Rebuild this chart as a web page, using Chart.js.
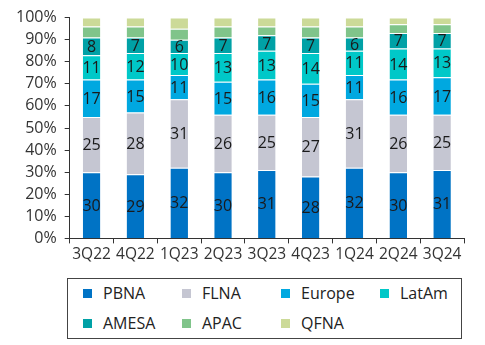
<!DOCTYPE html>
<html>
<head>
<meta charset="utf-8">
<script src="https://cdn.jsdelivr.net/npm/chart.js@4"></script>
<style>
  body { margin: 0; background: #fff; font-family: "Open Sans", sans-serif; }
  #wrap { position: relative; width: 485px; height: 345px; }
  #chartBox { position: absolute; left: 0; top: 0; width: 485px; height: 268px; }
  #legend {
    position: absolute; left: 67px; top: 278px; width: 395px; height: 61px;
    border: 1px solid #444; box-sizing: border-box;
    display: grid; grid-template-columns: 99px 99px 99px 96px; grid-auto-rows: 30px;
    padding: 0 0 0 15px;
  }
  .item { display: flex; align-items: center; font-size: 16px; color: #222; position: relative; top: -1px; }
  .sw { width: 9px; height: 9px; margin-right: 11px; }
</style>
</head>
<body>
<div id="wrap">
  <div id="chartBox"><canvas id="barChart"></canvas></div>
  <div id="legend"></div>
</div>
<script>
var quarters = ["3Q22", "4Q22", "1Q23", "2Q23", "3Q23", "4Q23", "1Q24", "2Q24", "3Q24"];
var pbna   = [30, 29, 32, 30, 31, 28, 32, 30, 31];
var flna   = [25, 28, 31, 26, 25, 27, 31, 26, 25];
var europe = [17, 15, 11, 15, 16, 15, 11, 16, 17];
var latam  = [11, 12, 10, 13, 13, 14, 11, 14, 13];
var amesa  = [8, 7, 6, 7, 7, 7, 6, 7, 7];
var apac   = [5, 5, 5, 5, 4, 5, 5, 4, 4];
var qfna   = [4, 4, 5, 4, 4, 4, 4, 3, 3];

var series = [
  { label: "PBNA",   data: pbna,   color: "#0073C5", showValue: true },
  { label: "FLNA",   data: flna,   color: "#C5C6D2", showValue: true },
  { label: "Europe", data: europe, color: "#00A8E0", showValue: true },
  { label: "LatAm",  data: latam,  color: "#00C8C8", showValue: true },
  { label: "AMESA",  data: amesa,  color: "#00A1A6", showValue: true },
  { label: "APAC",   data: apac,   color: "#80C48A", showValue: false },
  { label: "QFNA",   data: qfna,   color: "#CCDA98", showValue: false }
];

// write the segment value in the middle of each labelled segment
var segmentLabels = {
  id: "segmentLabels",
  afterDatasetsDraw: function (chart) {
    var ctx = chart.ctx;
    ctx.save();
    ctx.font = "16px 'Open Sans'";
    ctx.fillStyle = "#1a1a1a";
    ctx.textAlign = "center";
    ctx.textBaseline = "middle";
    chart.data.datasets.forEach(function (ds, i) {
      if (!series[i].showValue) return;
      chart.getDatasetMeta(i).data.forEach(function (bar, j) {
        ctx.fillText(ds.data[j], bar.x, (bar.y + bar.base) / 2 + 1);
      });
    });
    ctx.restore();
  }
};

var ctx = document.getElementById("barChart").getContext("2d");

var myChart = new Chart(ctx, {
  type: "bar",
  data: {
    labels: quarters,
    datasets: series.map(function (s) {
      return {
        label: s.label,
        data: s.data,
        backgroundColor: s.color,
        borderColor: "rgba(255,255,255,0.45)",
        borderWidth: { top: 1, bottom: 0, left: 0, right: 0 },
        borderSkipped: false,
        barPercentage: 0.4,
        categoryPercentage: 1
      };
    })
  },
  options: {
    responsive: true,
    maintainAspectRatio: false,
    animation: false,
    layout: { padding: { top: 16, right: 21, bottom: 2, left: 8 } },
    plugins: {
      legend: { display: false },
      tooltip: { enabled: false }
    },
    scales: {
      x: {
        stacked: true,
        grid: { drawOnChartArea: false, drawTicks: true, tickLength: 5, color: "#333", offset: true },
        border: { color: "#333", width: 1 },
        ticks: {
          color: "#333",
          font: { family: "Open Sans", size: 15.5 },
          padding: 2,
          maxRotation: 0,
          minRotation: 0,
          autoSkip: false
        }
      },
      y: {
        stacked: true,
        min: 0,
        max: 100,
        grid: { drawOnChartArea: false, drawTicks: true, tickLength: 5, color: "#333" },
        border: { color: "#333", width: 1 },
        ticks: {
          stepSize: 10,
          autoSkip: false,
          color: "#333",
          font: { family: "Open Sans", size: 16 },
          padding: 8,
          callback: function (v) { return v + "%"; }
        }
      }
    }
  },
  plugins: [segmentLabels]
});

// legend box below the chart
var legend = document.getElementById("legend");
series.forEach(function (s) {
  var item = document.createElement("div");
  item.className = "item";
  var sw = document.createElement("span");
  sw.className = "sw";
  sw.style.background = s.color;
  item.appendChild(sw);
  item.appendChild(document.createTextNode(s.label));
  legend.appendChild(item);
});
</script>
</body>
</html>
